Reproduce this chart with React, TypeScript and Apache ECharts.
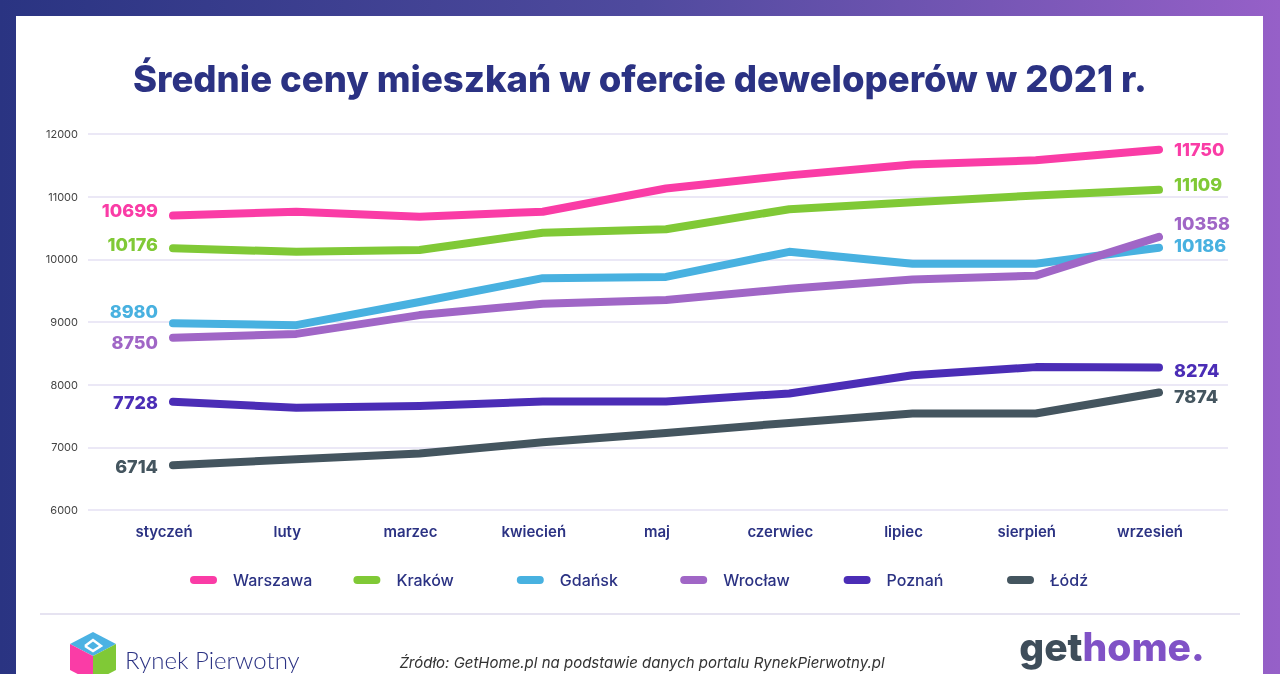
import React, { useEffect, useRef } from "react";
import * as echarts from "echarts";

const months = ["styczeń", "luty", "marzec", "kwiecień", "maj", "czerwiec", "lipiec", "sierpień", "wrzesień"];
const cities = ["Warszawa", "Kraków", "Gdańsk", "Wrocław", "Poznań", "Łódź"];
const warszawa = [10699, 10760, 10680, 10760, 11130, 11340, 11515, 11580, 11750];
const krakow = [10176, 10120, 10150, 10425, 10480, 10800, 10910, 11020, 11109];
const gdansk = [8980, 8950, 9320, 9700, 9720, 10120, 9930, 9930, 10186];
const wroclaw = [8750, 8810, 9110, 9290, 9350, 9530, 9680, 9740, 10358];
const poznan = [7728, 7630, 7660, 7730, 7730, 7860, 8150, 8280, 8274];
const lodz = [6714, 6810, 6900, 7080, 7230, 7390, 7540, 7540, 7874];
const yMin = 6000;
const yMax = 12000;
const yStep = 1000;

const seriesValues = [warszawa, krakow, gdansk, wroclaw, poznan, lodz];
const colors = ["#fa3ca6", "#80c936", "#48b1e0", "#a066c6", "#4b2db6", "#44555f"];
const leftOffsets = [-5, -4, -12, 5, 1, 1];
const rightOffsets = [0, -5, -2, -13, 3, 4];

const NAVY = "#2b3283";
const FONT = "Inter, 'Noto Sans', sans-serif";

export default function App() {
  const ref = useRef<HTMLDivElement>(null);

  useEffect(() => {
    if (!ref.current) return;
    const chart = echarts.init(ref.current, undefined, { renderer: "svg" });

    const series = seriesValues.map((vals, si) => ({
      name: cities[si],
      type: "line",
      xAxisIndex: 1,
      yAxisIndex: 1,
      symbol: "circle",
      symbolSize: 4,
      showSymbol: true,
      lineStyle: { width: 8, cap: "round", join: "round", color: colors[si] },
      itemStyle: { color: colors[si] },
      emphasis: { disabled: true },
      label: {
        fontSize: 18,
        fontWeight: 800,
        fontFamily: FONT,
        color: colors[si],
      },
      data: vals.map((v, i) => {
        if (i === 0)
          return { value: v, label: { show: true, position: "left", distance: 13, offset: [0, leftOffsets[si]] } };
        if (i === vals.length - 1)
          return { value: v, label: { show: true, position: "right", distance: 13, offset: [0, rightOffsets[si]] } };
        return v;
      }),
    }));

    const legends = cities.map((c, i) => ({
      data: [c],
      left: 185 + i * 163.4,
      top: 567,
      icon: "path://M4,0 H23 A4,4 0 0 1 23,8 H4 A4,4 0 0 1 4,0 Z",
      itemWidth: 27,
      itemHeight: 8,
      formatter: (name: string) => `{p|}{n|${name}}`,
      textStyle: {
        fontSize: 16,
        fontWeight: 500,
        color: NAVY,
        fontFamily: FONT,
        rich: {
          p: { width: 11 },
          n: { fontSize: 16, fontWeight: 500, color: NAVY, fontFamily: FONT },
        },
      },
    }));

    const option: any = {
      animation: false,
      title: {
        text: "Średnie ceny mieszkań w ofercie deweloperów w 2021 r.",
        left: "center",
        top: 55,
        textStyle: { fontSize: 36.5, fontWeight: 800, color: NAVY, fontFamily: FONT },
      },
      legend: legends,
      grid: [
        { left: 88, right: 52, top: 134, bottom: 164 },
        { left: 173, right: 121, top: 134, bottom: 164 },
      ],
      xAxis: [
        { gridIndex: 0, type: "value", min: 0, max: 1, show: false },
        {
          gridIndex: 1,
          type: "category",
          boundaryGap: false,
          data: months,
          axisLine: { show: false },
          axisTick: { show: false },
          splitLine: { show: false },
          axisLabel: {
            margin: 14,
            fontSize: 15,
            fontWeight: 600,
            color: NAVY,
            fontFamily: FONT,
            padding: [0, 18, 0, 0],
          },
        },
      ],
      yAxis: [
        {
          gridIndex: 0,
          type: "value",
          min: yMin,
          max: yMax,
          interval: yStep,
          axisLine: { show: false },
          axisTick: { show: false },
          splitLine: { lineStyle: { color: "#e4e1f3", width: 1.5 } },
          axisLabel: {
            fontSize: 11,
            color: "#444",
            margin: 10,
            fontFamily: FONT,
            formatter: (v: number) => String(v),
          },
        },
        { gridIndex: 1, type: "value", min: yMin, max: yMax, interval: yStep, show: false },
      ],
      graphic: [
        {
          type: "rect",
          z: -20,
          shape: { x: 0, y: 0, width: 1280, height: 674 },
          style: {
            fill: new echarts.graphic.LinearGradient(0, 0, 1, 0, [
              { offset: 0, color: "#2a3482" },
              { offset: 0.5, color: "#4f4a9e" },
              { offset: 1, color: "#9660c8" },
            ]),
          },
        },
        {
          type: "rect",
          z: -19,
          shape: { x: 16, y: 16, width: 1247, height: 700 },
          style: { fill: "#ffffff" },
        },
        {
          type: "line",
          z: -18,
          shape: { x1: 40, y1: 614, x2: 1240, y2: 614 },
          style: { stroke: "#e6e3f1", lineWidth: 2 },
        },
        {
          type: "polygon",
          shape: { points: [[93, 632], [116, 644], [93, 656], [70, 644]] },
          style: { fill: "#4bb2e3" },
        },
        {
          type: "polygon",
          shape: { points: [[70, 644], [93, 656], [93, 682], [70, 670]] },
          style: { fill: "#fa3ca6" },
        },
        {
          type: "polygon",
          shape: { points: [[93, 656], [116, 644], [116, 670], [93, 682]] },
          style: { fill: "#80c936" },
        },
        {
          type: "polyline",
          shape: { points: [[85, 646], [93, 640], [101, 646], [93, 651], [85, 646]] },
          style: { stroke: "#ffffff", lineWidth: 2.5, fill: "none" },
        },
        {
          type: "text",
          x: 125,
          y: 659,
          style: {
            text: "Rynek Pierwotny",
            fontSize: 24,
            fontWeight: 300,
            fontFamily: "Lato, 'Noto Sans', sans-serif",
            fill: NAVY,
            verticalAlign: "middle",
          },
        },
        {
          type: "text",
          x: 642,
          y: 662,
          style: {
            text: "Źródło: GetHome.pl na podstawie danych portalu RynekPierwotny.pl",
            fontSize: 15,
            fontStyle: "italic",
            fontFamily: FONT,
            fill: "#333",
            align: "center",
            verticalAlign: "middle",
          },
        },
        {
          type: "text",
          x: 1112,
          y: 646,
          style: {
            text: "{a|get}{b|home.}",
            align: "center",
            verticalAlign: "middle",
            rich: {
              a: { fontSize: 39, lineHeight: 38, fontWeight: 800, fontFamily: FONT, fill: "#3e4d5a", color: "#3e4d5a" },
              b: { fontSize: 39, lineHeight: 38, fontWeight: 800, fontFamily: FONT, fill: "#8052c6", color: "#8052c6" },
            },
          },
        },
      ],
      series,
    };

    chart.setOption(option);
    return () => chart.dispose();
  }, []);

  return <div ref={ref} style={{ position: "fixed", left: 0, top: 0, width: 1280, height: 674 }} />;
}
